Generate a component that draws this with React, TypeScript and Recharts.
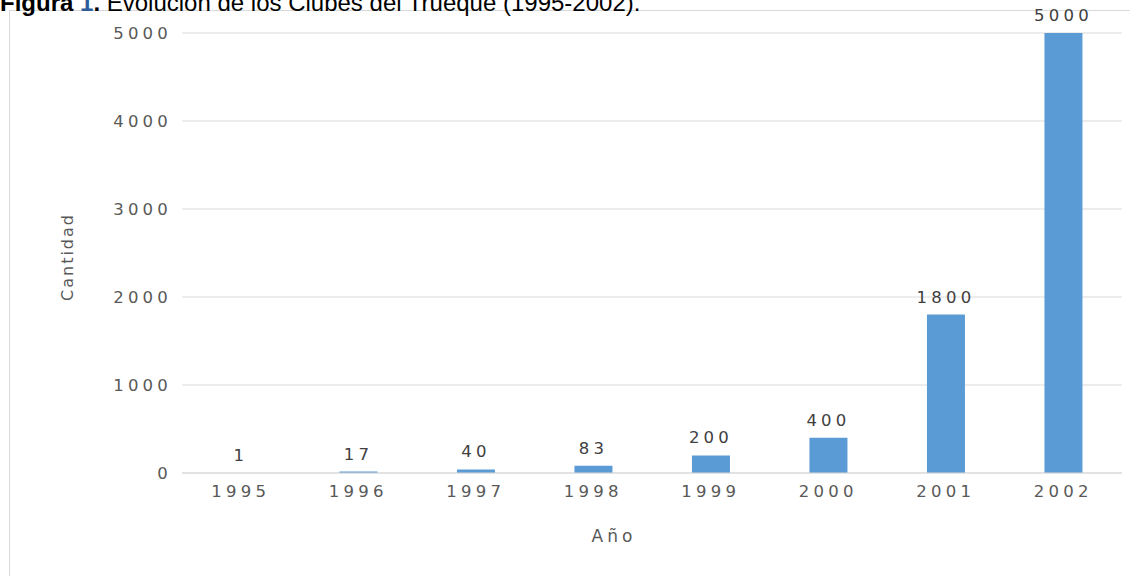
import {BarChart, Bar, XAxis, YAxis, CartesianGrid, LabelList, Label} from "recharts";

const YEARS = ["1995", "1996", "1997", "1998", "1999", "2000", "2001", "2002"];
const CLUBS = [1, 17, 40, 83, 200, 400, 1800, 5000];
const Y_TICKS = [0, 1000, 2000, 3000, 4000, 5000];

const data = YEARS.map((year, i) => ({year, clubs: CLUBS[i]}));

const FONT = "'DejaVu Sans', sans-serif";

const App = () => {
    return (
        <div style={{position: "absolute", left: 0, top: 0, width: 1130, height: 576, overflow: "hidden", background: "#fff"}}>
            <div style={{
                position: "absolute",
                left: 9,
                top: 10,
                width: 1200,
                height: 700,
                border: "1px solid #d9d9d9",
                boxSizing: "border-box"
            }}/>
            <div style={{
                position: "absolute",
                left: 0,
                top: -9,
                fontFamily: "'Liberation Sans', Arial, sans-serif",
                fontSize: 24,
                color: "#000",
                whiteSpace: "nowrap",
                lineHeight: "24px"
            }}>
                <b>Figura <span style={{color: "#2e5d9a"}}>1</span>.</b> Evolución de los Clubes del Trueque (1995-2002).
            </div>
            <div style={{position: "absolute", left: 0, top: 0}}>
                <BarChart
                    width={1130}
                    height={576}
                    data={data}
                    margin={{top: 33, right: 8, bottom: 0, left: 0}}
                    barCategoryGap="34%"
                >
                    <CartesianGrid vertical={false} stroke="#d9d9d9"/>
                    <XAxis
                        dataKey="year"
                        height={103}
                        axisLine={{stroke: "#d9d9d9"}}
                        tickLine={false}
                        tickSize={0}
                        tickMargin={12}
                        tick={{fill: "#595959", fontSize: 16.5, fontFamily: FONT, letterSpacing: 4.2}}
                    >
                        <Label
                            value="Año"
                            position="insideTop"
                            offset={57}
                            dx={-38}
                            fill="#595959"
                            fontSize={17}
                            fontFamily={FONT}
                            letterSpacing={4}
                        />
                    </XAxis>
                    <YAxis
                        width={182}
                        domain={[0, 5000]}
                        ticks={Y_TICKS}
                        axisLine={false}
                        tickLine={false}
                        tickSize={0}
                        tickMargin={10}
                        tick={{fill: "#595959", fontSize: 16.5, fontFamily: FONT, letterSpacing: 4.2}}
                    >
                        <Label
                            value="Cantidad"
                            angle={-90}
                            position="insideLeft"
                            offset={67}
                            dy={4}
                            textAnchor="middle"
                            fill="#595959"
                            fontSize={16}
                            fontFamily={FONT}
                            letterSpacing={2}
                        />
                    </YAxis>
                    <Bar dataKey="clubs" fill="#5b9bd5" isAnimationActive={false}>
                        <LabelList
                            dataKey="clubs"
                            position="top"
                            offset={12}
                            fill="#404040"
                            fontSize={16.5}
                            fontFamily={FONT}
                            letterSpacing={4.2}
                        />
                    </Bar>
                </BarChart>
            </div>
        </div>
    )
}

export default App
